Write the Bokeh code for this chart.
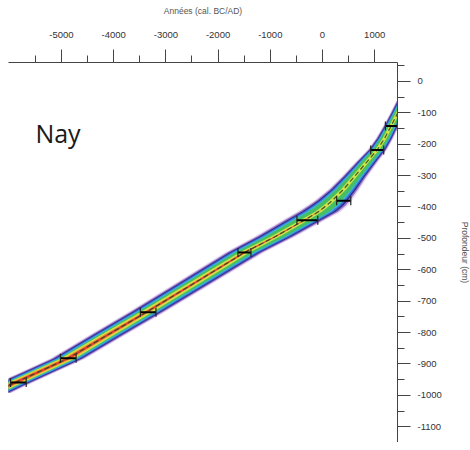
import numpy as np
from bokeh.plotting import figure
from bokeh.models import LinearAxis, Range1d, FixedTicker, Label
from bokeh.embed import file_html
from bokeh.resources import INLINE

# ---------------- data ----------------
year_ticks = [-5000, -4000, -3000, -2000, -1000, 0, 1000]
year_minor = [-5500, -4500, -3500, -2500, -1500, -500, 500]
depth_ticks = [0, -100, -200, -300, -400, -500, -600, -700, -800, -900, -1000, -1100]
depth_minor = [50, -50, -150, -250, -350, -450, -550, -650, -750, -850, -950, -1050, -1150]

# dated levels (calibrated age, 2-sigma half range, depth)
date_age = [1320, 1048, 407, -290, -1495, -3340, -4870, -5826]
date_err = [115, 125, 135, 200, 125, 150, 150, 150]
date_depth = [-142, -219, -380, -442, -545, -735, -882, -959]

# age-depth model: median age along depth, envelope half-widths (years)
model_depth = [-992, -969, -926, -883, -808, -733, -639, -545, -494, -440, -415, -395, -379, -344, -303, -258, -217, -182, -140, -102, -62]
model_age = [-6300, -6015, -5450, -4885, -4120, -3352, -2420, -1494, -900, -325, -76, 78, 192, 402, 613, 843, 1054, 1188, 1322, 1437, 1560]
model_lo = [290, 290, 290, 290, 295, 300, 310, 320, 340, 360, 350, 320, 290, 250, 210, 185, 160, 145, 130, 125, 125]
model_hi = [290, 290, 290, 290, 295, 300, 310, 320, 330, 340, 360, 350, 320, 260, 215, 185, 160, 145, 130, 125, 125]
model_core = [140, 140, 138, 135, 125, 115, 105, 95, 85, 75, 65, 60, 55, 50, 45, 42, 40, 38, 36, 36, 36]
model_hot = [100, 100, 96, 90, 75, 62, 50, 40, 30, 18, 8, 0, 0, 0, 0, 0, 0, 0, 0, 0, 0]

# ---------------- figure ----------------
p = figure(frame_width=389, frame_height=380,
           x_range=Range1d(-6015, 1437), y_range=Range1d(-1150, 60),
           x_axis_location=None, y_axis_location=None,
           output_backend="svg", toolbar_location=None,
           min_border_left=8, min_border_top=62, min_border_bottom=0, min_border_right=0)
p.outline_line_color = None
p.xgrid.visible = False
p.ygrid.visible = False
p.background_fill_color = "white"
p.border_fill_color = "white"

md = np.array(model_depth, float)
ma = np.array(model_age, float)
lo = np.array(model_lo, float)
hi = np.array(model_hi, float)
core = np.array(model_core, float)
hot = np.array(model_hot, float)

def band(fl, fh, color, alpha):
    p.harea(x1=ma - fl, x2=ma + fh, y=md, fill_color=color, fill_alpha=alpha)

band(lo * 1.18, hi * 1.18, "#a070d0", 0.25)
band(lo * 1.05, hi * 1.05, "#6a2fa8", 0.6)
band(lo * 0.92, hi * 0.92, "#2f2f92", 1.0)
band(lo * 0.80, hi * 0.80, "#3a6fd0", 1.0)
band(lo * 0.68, hi * 0.68, "#38b4e2", 1.0)
band(lo * 0.56, hi * 0.56, "#46bf62", 1.0)
band(core, core, "#cfe24a", 1.0)
band(hot, hot, "#f2a33a", 1.0)
band(hot * 0.55, hot * 0.55, "#e2402a", 1.0)

p.line(model_age, model_depth, line_color="#2e4a22", line_width=1.3, line_dash="5 3", line_alpha=0.85)

# dated levels with error bars
da = np.array(date_age, float)
de = np.array(date_err, float)
p.segment(x0=da - de, x1=da + de, y0=date_depth, y1=date_depth, line_color="black", line_width=2)
p.dash(x=list(da - de) + list(da + de), y=date_depth * 2, size=9, angle=np.pi / 2,
       line_color="#222222", line_width=1.2)

# axes
label_font = "Liberation Sans"
top = LinearAxis(ticker=FixedTicker(ticks=year_ticks, minor_ticks=year_minor),
                 axis_label="Années (cal. BC/AD)")
top.major_label_overrides = {t: str(t) for t in year_ticks}
right = LinearAxis(ticker=FixedTicker(ticks=depth_ticks, minor_ticks=depth_minor),
                   axis_label="Profondeur (cm)")
right.major_label_overrides = {t: str(t) for t in depth_ticks}
for ax in (top, right):
    ax.axis_line_color = "#444444"
    ax.axis_line_width = 1
    ax.major_tick_line_color = "#444444"
    ax.minor_tick_line_color = "#444444"
    ax.major_tick_out = 13
    ax.major_tick_in = 0
    ax.minor_tick_out = 7
    ax.minor_tick_in = 0
    ax.major_label_text_font = label_font
    ax.major_label_text_font_size = "9.5px"
    ax.major_label_text_color = "#333333"
    ax.axis_label_text_font = label_font
    ax.axis_label_text_font_size = "8.5px"
    ax.axis_label_text_font_style = "normal"
    ax.axis_label_text_color = "#555555"
top.major_label_standoff = 12
top.axis_label_standoff = 13
right.major_label_standoff = 7
right.axis_label_standoff = 15
p.add_layout(top, "above")
p.add_layout(right, "right")

p.add_layout(Label(x=-5500, y=-166, text="Nay", text_font="Open Sans",
                   text_font_size="25px", text_color="#1a1a1a", text_baseline="alphabetic"))

open("out.html", "w").write(file_html(p, INLINE))
